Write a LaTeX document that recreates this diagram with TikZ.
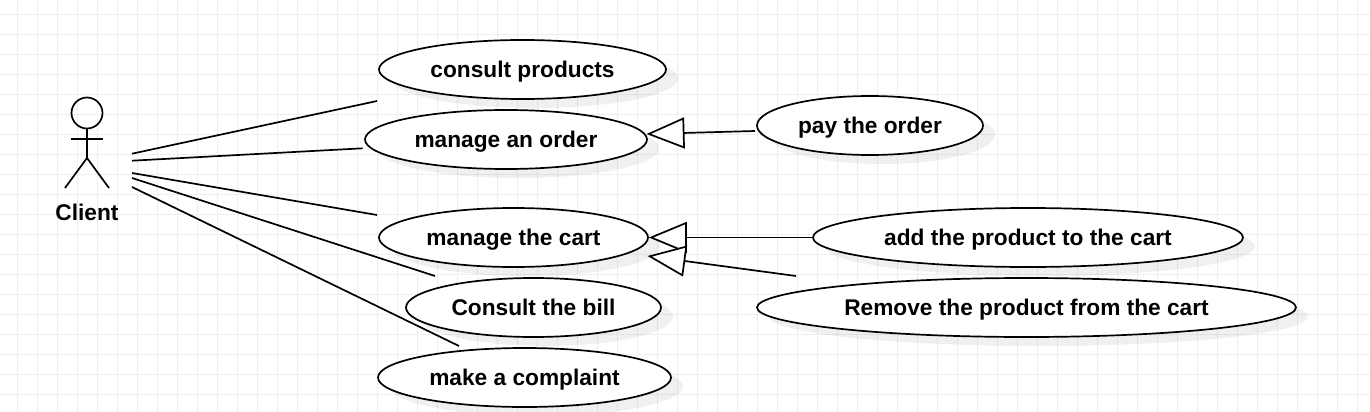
\documentclass[tikz,border=0pt]{standalone}
\usepackage{fontspec}
\setmainfont{Liberation Sans}
\usetikzlibrary{arrows.meta}
\usetikzlibrary{shapes.geometric}
\usetikzlibrary{shadows}
\definecolor{gridgrey}{HTML}{EEEEEE}
\tikzset{
 caption/.style={font=\fontsize{22.7}{26}\selectfont\bfseries, text height=20pt, text depth=4.6pt},
 usecase/.style={ellipse, caption, draw=black, line width=1.7pt, fill=white, inner sep=0, minimum height=59pt,
  drop shadow={shadow xshift=12pt, shadow yshift=-9pt, fill=black, opacity=.06}},
 assoc/.style={black, line width=1.7pt},
 generalize/.style={black, line width=1.7pt, -{Triangle[length=38pt, width=31pt, fill=white]}},
 stick/.style={black, line width=1.7pt}
}
\begin{document}
\begin{tikzpicture}[x=1pt, y=-1pt]
\useasboundingbox (0,0) rectangle (1370,412);
\foreach \x in {0,...,68} {
 \draw[gridgrey, line width=1pt] (17.5+20*\x,0) --++(0,412);
}
\foreach \y in {0,...,19} {
 \draw[gridgrey, line width=1pt] (0,14.5+20*\y) --++(1370,0);
}
% actor
\draw[stick] (87,113) circle (15.5);
\draw[stick] (87,128.5) --(87,158);
\draw[stick] (71,139) --(103,139);
\draw[stick] (65,188) --(87,158) --(109,188);
\node[caption] (client) at (87,212.5) {Client};
% use cases
\node[usecase, minimum width=287pt] (products) at (522.5,69.5) {consult products};
\node[usecase, minimum width=282pt] (order) at (506,139.5) {manage an order};
\node[usecase, minimum width=226pt] (pay) at (870,125.5) {pay the order};
\node[usecase, minimum width=269pt] (cart) at (513.5,237.5) {manage the cart};
\node[usecase, minimum width=430pt] (add) at (1028,237.5) {add the product to the cart};
\node[usecase, minimum width=255pt] (bill) at (533.5,307.5) {Consult the bill};
\node[usecase, minimum width=539pt] (remove) at (1026.5,307.5) {Remove the product from the cart};
\node[usecase, minimum width=293pt] (complaint) at (524.5,377.5) {make a complaint};
% free ends of the connectors
\coordinate (A) at (132,153.7);
\coordinate (B) at (132,160.7);
\coordinate (C) at (132,173);
\coordinate (D) at (132,178);
\coordinate (E) at (132,187);
\coordinate (P) at (377,101);
\coordinate (O) at (362.7,148.3);
\coordinate (K) at (377,215);
\coordinate (L) at (435,276);
\coordinate (M) at (459,346);
\coordinate (Q) at (755,131);
\coordinate (R) at (646.5,134);
\coordinate (S) at (796,276);
\coordinate (T) at (647.5,256);
\draw[assoc] (A)--(P);
\draw[assoc] (B)--(O);
\draw[assoc] (C)--(K);
\draw[assoc] (D)--(L);
\draw[assoc] (E)--(M);
\draw[generalize] (Q)--(R);
\draw[generalize] (add.west)--(cart.east);
\draw[generalize] (S)--(T);
\end{tikzpicture}
\end{document}
